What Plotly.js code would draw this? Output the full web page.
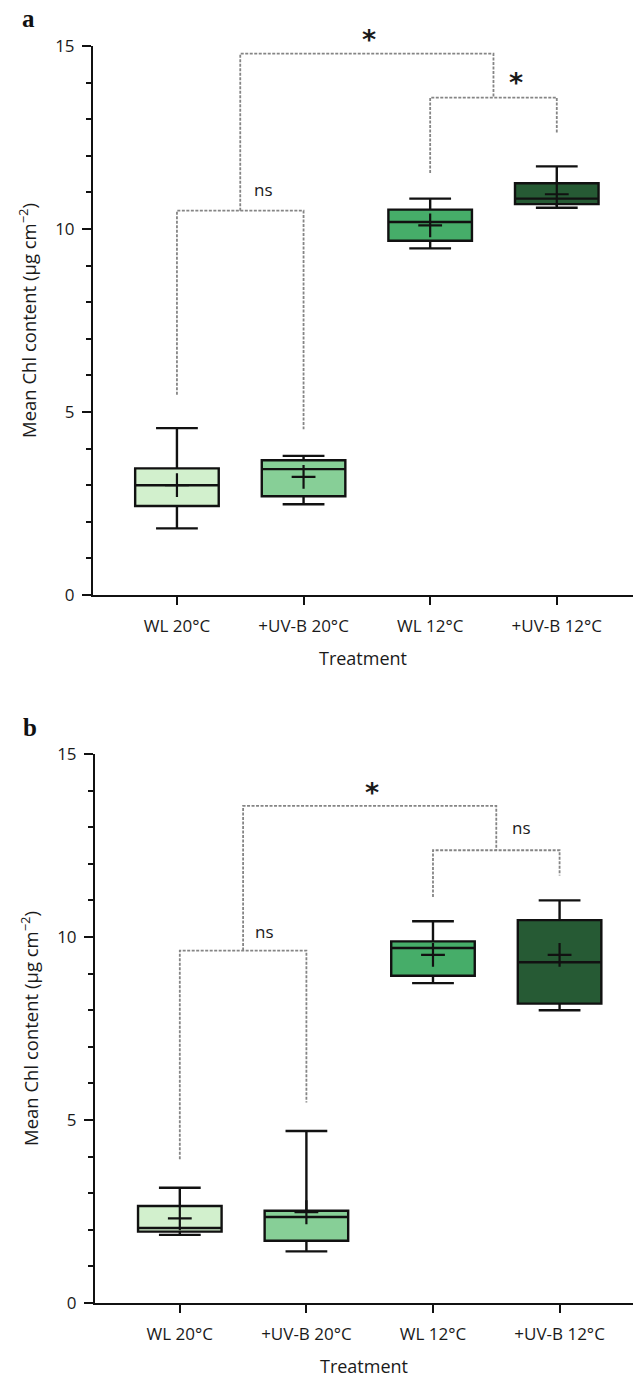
<!DOCTYPE html>
<html><head><meta charset="utf-8">
<script src="https://cdn.plot.ly/plotly-3.0.1.min.js"></script>
<style>html,body{margin:0;padding:0;background:#fff}</style>
</head><body><div id="chart" style="width:633px;height:1381px"></div>
<script>
const categories = ['WL 20°C', '+UV-B 20°C', 'WL 12°C', '+UV-B 12°C'];
const boxColors = ['#d2f0cd', '#87cf97', '#46ad69', '#265a34'];
const yRange = [0, 15];

// Panel a summary statistics
const aLower  = [1.82, 2.48, 9.47, 10.58];
const aQ1     = [2.43, 2.70, 9.68, 10.68];
const aMedian = [3.00, 3.44, 10.19, 10.83];
const aQ3     = [3.46, 3.68, 10.53, 11.25];
const aUpper  = [4.56, 3.80, 10.83, 11.71];
const aMean   = [3.00, 3.23, 10.10, 10.95];

// Panel b summary statistics
const bLower  = [1.86, 1.41, 8.74, 8.00];
const bQ1     = [1.95, 1.70, 8.94, 8.18];
const bMedian = [2.05, 2.35, 9.70, 9.31];
const bQ3     = [2.65, 2.52, 9.88, 10.46];
const bUpper  = [3.15, 4.70, 10.43, 11.00];
const bMean   = [2.31, 2.48, 9.51, 9.51];

// Significance brackets: [left, right, top, leftEnd, rightEnd]
const aBrackets = [[0, 1, 10.5, 5.47, 4.53], [2, 3, 13.59, 11.53, 12.62], [0.5, 2.5, 14.79, 10.5, 13.59]];
const aLabels = ['ns', '*', '*'];
const aLabelX = [0.68, 2.68, 1.52];
const aLabelY = [11.07, 14.0, 15.17];

const bBrackets = [[0, 1, 9.63, 3.93, 5.48], [2, 3, 12.37, 11.09, 11.68], [0.5, 2.5, 13.58, 9.63, 12.37]];
const bLabels = ['ns', 'ns', '*'];
const bLabelX = [0.67, 2.70, 1.52];
const bLabelY = [10.16, 13.0, 13.95];

const FONT = '"Open Sans", "Noto Sans", sans-serif';
const TXT = '#1a1a1a';
const traces = [];
const annotations = [];

function addPanel(xa, ya, lower, q1, med, q3, upper, mean, brackets, labels, lx, ly) {
  brackets.forEach(b => {
    traces.push({type: 'scatter', mode: 'lines', xaxis: xa, yaxis: ya,
      x: [b[0], b[0], b[1], b[1]], y: [b[3], b[2], b[2], b[4]],
      line: {color: '#858585', width: 1.8, dash: '3px,1.5px'}, hoverinfo: 'skip', cliponaxis: false});
  });
  categories.forEach((c, i) => {
    traces.push({type: 'box', orientation: 'v', xaxis: xa, yaxis: ya,
      x: [i], q1: [q1[i]], median: [med[i]], q3: [q3[i]],
      lowerfence: [lower[i]], upperfence: [upper[i]],
      width: 0.66, whiskerwidth: 0.5, boxpoints: false,
      fillcolor: boxColors[i], line: {color: '#111', width: 2.4}, name: c});
  });
  traces.push({type: 'scatter', mode: 'markers', xaxis: xa, yaxis: ya,
    x: categories.map((c, i) => i), y: mean,
    marker: {symbol: 'cross-thin-open', size: 17, color: '#111', line: {color: '#111', width: 2.2}}});
  labels.forEach((t, i) => {
    const star = t === '*';
    annotations.push({xref: xa, yref: ya + ' domain', x: lx[i],
      y: (ly[i] - yRange[0]) / (yRange[1] - yRange[0]), text: star ? '<b>*</b>' : t, showarrow: false,
      xanchor: 'center', yanchor: 'middle',
      font: {family: star ? '"DejaVu Sans", sans-serif' : FONT, size: star ? 27 : 17, color: TXT}});
  });
}

addPanel('x', 'y', aLower, aQ1, aMedian, aQ3, aUpper, aMean, aBrackets, aLabels, aLabelX, aLabelY);
addPanel('x2', 'y2', bLower, bQ1, bMedian, bQ3, bUpper, bMean, bBrackets, bLabels, bLabelX, bLabelY);

function xAxis(domStart, range, anchor) {
  return {domain: [domStart / 633, 1], range: range, anchor: anchor,
    tickmode: 'array', tickvals: categories.map((c, i) => i), ticktext: categories,
    ticks: 'outside', ticklen: 8, tickwidth: 2, tickcolor: '#111',
    showline: true, linewidth: 2, linecolor: '#111', showgrid: false, zeroline: false,
    tickfont: {family: FONT, size: 17, color: TXT}, ticklabelstandoff: 7,
    title: {text: 'Treatment', font: {family: FONT, size: 18, color: TXT}, standoff: 16}};
}
function yAxis(top, bottom, anchor) {
  return {domain: [1 - bottom / 1381, 1 - top / 1381], range: yRange, anchor: anchor,
    tick0: 0, dtick: 5, ticks: 'outside', ticklen: 9, tickwidth: 2, tickcolor: '#111',
    minor: {tick0: 0, dtick: 1, ticks: 'outside', ticklen: 5, tickwidth: 2, tickcolor: '#111'},
    showline: true, linewidth: 2, linecolor: '#111', showgrid: false, zeroline: false,
    tickfont: {family: FONT, size: 17, color: TXT}, ticklabelstandoff: 4,
    title: {text: 'Mean Chl content (μg cm<sup>−2</sup>)', font: {family: FONT, size: 18.5, color: TXT}, standoff: 14}};
}

annotations.push({xref: 'paper', yref: 'paper', x: 28 / 633, y: 1 - 18 / 1381, text: '<b>a</b>', showarrow: false,
  xanchor: 'center', yanchor: 'middle', font: {family: '"Liberation Serif", serif', size: 25, color: '#111'}});
annotations.push({xref: 'paper', yref: 'paper', x: 30 / 633, y: 1 - 727 / 1381, text: '<b>b</b>', showarrow: false,
  xanchor: 'center', yanchor: 'middle', font: {family: '"Liberation Serif", serif', size: 25, color: '#111'}});

const layout = {
  width: 633, height: 1381, margin: {l: 0, r: 0, t: 0, b: 0},
  paper_bgcolor: '#fff', plot_bgcolor: '#fff', showlegend: false, hovermode: false,
  boxmode: 'overlay',
  xaxis: xAxis(93, [-0.663, 3.602], 'y'),
  yaxis: yAxis(46, 595, 'x'),
  xaxis2: xAxis(95, [-0.67, 3.58], 'y2'),
  yaxis2: yAxis(754, 1303, 'x2'),
  annotations: annotations
};

Plotly.newPlot('chart', traces, layout, {staticPlot: true, displayModeBar: false});
</script></body></html>
